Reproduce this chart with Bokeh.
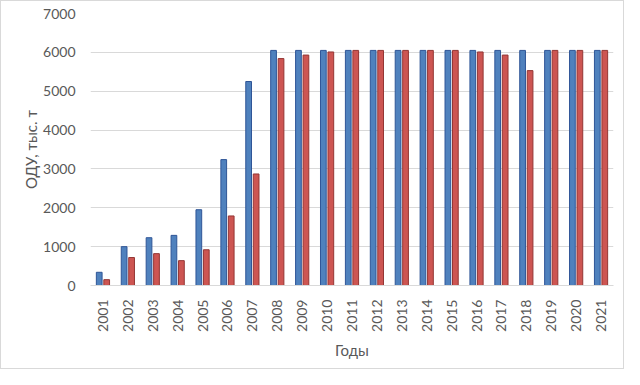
from bokeh.plotting import figure
from bokeh.models import FactorRange, SingleIntervalTicker, ColumnDataSource
from bokeh.transform import dodge
from bokeh.embed import file_html
from bokeh.resources import INLINE
import math

years = [str(y) for y in range(2001, 2022)]
odu = [340, 1000, 1230, 1290, 1950, 3240, 5250, 6050, 6050, 6050, 6050, 6050,
       6050, 6050, 6050, 6050, 6050, 6050, 6050, 6050, 6050]
catch = [150, 720, 820, 640, 920, 1790, 2870, 5840, 5930, 6010, 6050, 6050,
         6050, 6050, 6050, 6010, 5930, 5530, 6050, 6050, 6050]

src = ColumnDataSource(dict(year=years, odu=odu, catch=catch))

FONT = "Lato"
GRAY = "#595959"

p = figure(x_range=FactorRange(*years), y_range=(0, 7000),
           width=624, height=369, output_backend="svg", toolbar_location=None,
           min_border_left=89, min_border_right=12, min_border_top=12,
           min_border_bottom=85)
p.styles = {"border": "1px solid #d9d9d9", "box-sizing": "border-box"}

p.vbar(x=dodge("year", -0.15, range=p.x_range), top="odu", width=0.23,
       source=src, fill_color="#4f81bd", line_color="#2f5597", line_width=1)
p.vbar(x=dodge("year", 0.15, range=p.x_range), top="catch", width=0.23,
       source=src, fill_color="#cd5552", line_color="#943634", line_width=1)

p.outline_line_color = None
p.xgrid.grid_line_color = None
p.ygrid.grid_line_color = "#d9d9d9"
p.ygrid.grid_line_width = 1
p.yaxis.ticker = SingleIntervalTicker(interval=1000)
p.yaxis.axis_line_color = None
p.yaxis.major_tick_line_color = None
p.yaxis.minor_tick_line_color = None
p.xaxis.axis_line_color = "#d9d9d9"
p.xaxis.major_tick_line_color = None
p.xaxis.minor_tick_line_color = None
p.xaxis.major_label_orientation = math.pi / 2
p.x_range.range_padding = 0
p.x_range.group_padding = 0

for ax in (p.xaxis[0], p.yaxis[0]):
    ax.major_label_text_font = FONT
    ax.major_label_text_font_size = "14px"
    ax.major_label_text_color = GRAY
    ax.axis_label_text_font = FONT
    ax.axis_label_text_font_size = "15px"
    ax.axis_label_text_color = GRAY
    ax.axis_label_text_font_style = "normal"

p.yaxis.axis_label = "ОДУ, тыс. т"
p.xaxis.axis_label = "Годы"
p.yaxis.major_label_standoff = 9
p.xaxis.major_label_standoff = 8
p.xaxis.axis_label_standoff = 6
p.yaxis.axis_label_standoff = 0

open("out.html", "w").write(file_html(p, INLINE))
